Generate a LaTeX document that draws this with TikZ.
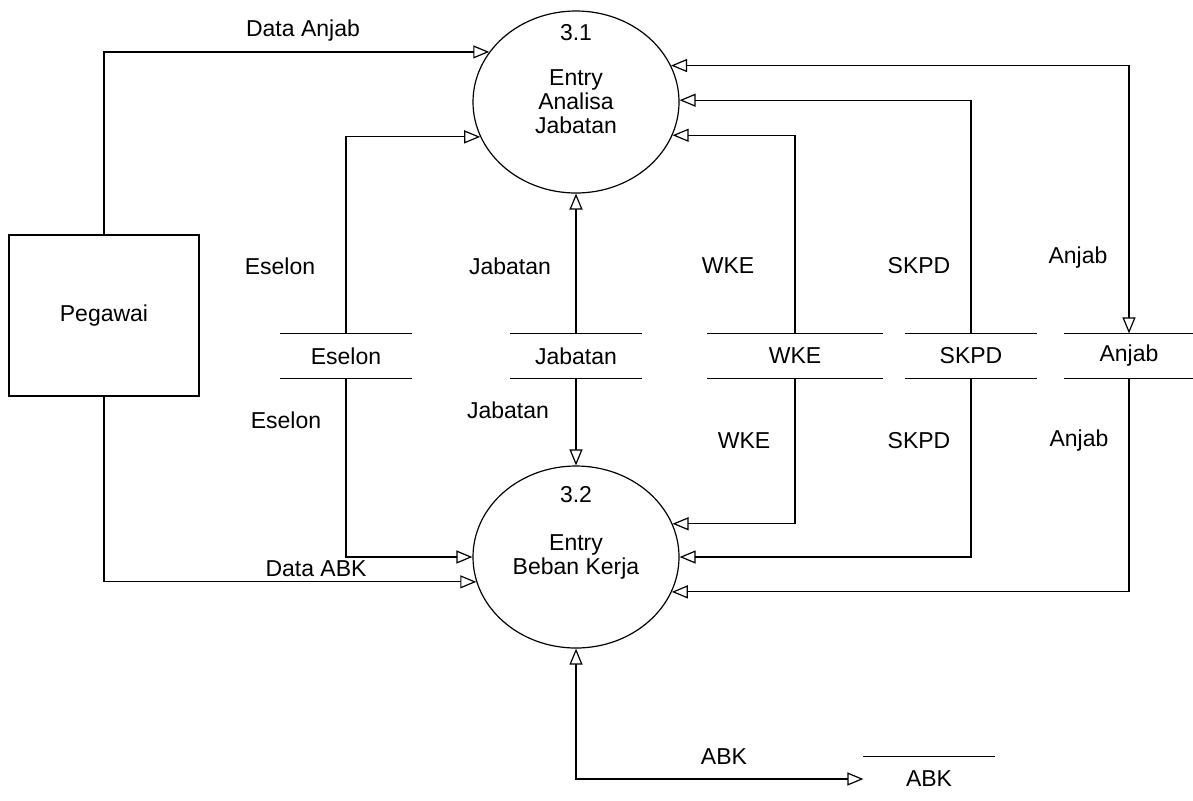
\documentclass[tikz,border=0pt]{standalone}
\usepackage{fontspec}
\setmainfont{Liberation Sans}
\usetikzlibrary{arrows.meta,shapes.geometric}

\tikzset{
  proc/.style={draw, ellipse, minimum width=103pt, minimum height=91pt, inner sep=0pt, align=center},
  ent/.style={draw, minimum width=95pt, minimum height=80.5pt},
  store/.style={minimum height=22pt, inner sep=0pt},
  flow/.style={-{Triangle[open,length=8pt,width=6.5pt]}},
  flowtwo/.style={{Triangle[open,length=8pt,width=6.5pt]}-{Triangle[open,length=8pt,width=6.5pt]}},
}

\begin{document}
\begin{tikzpicture}[x=0.5pt, y=-0.5pt, line width=0.6pt, font=\fontsize{11.5}{12}\selectfont]
\useasboundingbox (0,0) rectangle (1193,800);

% Processes
\node[proc] (p31) at (576,102) {Entry\\Analisa\\Jabatan};
\node (n31) at (576,33) {3.1};
\node[proc] (p32) at (576,557) {Entry\\Beban Kerja};
\node (n32) at (576,495) {3.2};

% Entity
\node[ent] (peg) at (104,315.5) {Pegawai};

% Data stores
\node[store, minimum width=65pt] (es) at (346,356) {Eselon};
\node[store, minimum width=65pt] (jab) at (576,356) {Jabatan};
\node[store, minimum width=87pt] (wke) at (795,356) {WKE};
\node[store, minimum width=65pt] (skpd) at (971,356) {SKPD};
\node[store, minimum width=64pt] (anj) at (1129,356) {Anjab};
\foreach \s in {es,jab,wke,skpd,anj}
  \draw (\s.north west) -- (\s.north east) (\s.south west) -- (\s.south east);
\node[store, minimum width=65pt] (abk) at (929,779) {ABK};
\draw (abk.north west) -- (abk.north east);

% Flows to 3.1
\draw[flow] (peg.north) |- (p31.150);
\draw[flow] (es.north) |- (p31.200);
\draw[flow] (jab.north) -- (p31.south);
\draw[flow] (wke.north) |- (p31.-19);
\draw[flow] (skpd.north) |- (p31.1);
\draw[flowtwo] (p31.21.5) -| (anj.north);

% Flows to 3.2
\draw[flow] (peg.south) |- (p32.194);
\draw[flow] (es.south) |- (p32.180);
\draw[flow] (jab.south) -- (p32.north);
\draw[flow] (wke.south) |- (p32.19);
\draw[flow] (skpd.south) |- (p32.0);
\draw[flow] (anj.south) |- (p32.-20);
\draw[flowtwo] (p32.south) |- (abk.west);

% Labels
\node (lda) at (303,31) {Data Anjab};
\node (ldabk) at (316,569) {Data ABK};
\node (les1) at (280,266) {Eselon};
\node (les2) at (286,420) {Eselon};
\node (ljab1) at (510,266) {Jabatan};
\node (ljab2) at (508,410) {Jabatan};
\node (lwke1) at (728,266) {WKE};
\node (lwke2) at (744,441) {WKE};
\node (lskpd1) at (919,266) {SKPD};
\node (lskpd2) at (919,441) {SKPD};
\node (lanj1) at (1078,258) {Anjab};
\node (lanj2) at (1079,441) {Anjab};
\node (labk) at (724,757) {ABK};
\end{tikzpicture}
\end{document}
